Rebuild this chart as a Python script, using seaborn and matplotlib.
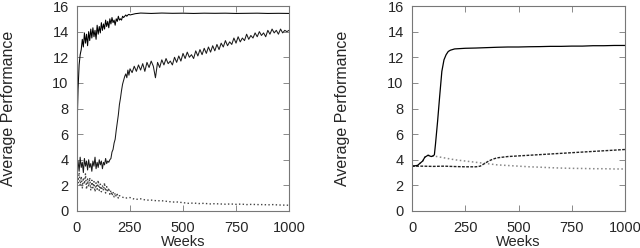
import numpy as np
import pandas as pd
import matplotlib
matplotlib.use("Agg")
import matplotlib.pyplot as plt
import seaborn as sns

# ---- left panel data ----
weeks_top_l = list(range(0, 251, 5)) + [275, 300] + list(range(350, 1001, 50))
perf_top_l = [6.2, 9.5, 11.4, 12.2, 12.6, 13.4, 12.8, 13.9, 13.1, 13.8,
              12.9, 14.0, 13.3, 14.2, 13.5, 14.3, 13.6, 14.1, 13.4, 14.5,
              13.8, 14.4, 13.9, 14.7, 14.1, 14.6, 14.2, 14.9, 14.4, 14.8,
              14.3, 15.0, 14.6, 15.1, 14.7, 14.9, 14.5, 15.0, 14.8, 15.2,
              14.9, 15.0, 14.9, 15.2, 15.1, 15.2, 15.3, 15.2, 15.3, 15.35,
              15.3,
              15.4, 15.45,
              15.42, 15.45, 15.43, 15.44, 15.42, 15.44, 15.43, 15.44, 15.42,
              15.43, 15.44, 15.42, 15.43, 15.42]

weeks_mid_l = list(range(0, 251, 5)) + list(range(260, 1001, 10))
perf_mid_l = [3.3, 3.9, 3.1, 4.2, 3.4, 3.8, 3.0, 4.1, 3.5, 3.9,
              3.2, 4.0, 3.4, 3.7, 3.1, 3.9, 3.5, 4.2, 3.3, 3.8,
              3.4, 4.0, 3.6, 3.9, 3.3, 3.8, 3.6, 4.1, 3.7, 3.9,
              3.8, 4.0, 4.1, 4.6, 4.8, 5.3, 5.6, 6.3, 6.9, 7.5,
              8.3, 8.8, 9.4, 9.9, 10.2, 10.5, 10.7, 10.4, 11.0, 10.6,
              11.1,
              10.8, 11.3, 10.9, 11.4, 11.0, 11.5, 10.9, 11.6, 11.2, 11.7,
              11.3, 10.4, 11.6, 11.2, 11.8, 11.4, 11.9, 11.5, 11.7, 11.4,
              12.0, 11.6, 12.1, 11.7, 12.3, 11.9, 12.4, 12.0, 12.2, 11.9,
              12.5, 12.1, 12.6, 12.2, 12.7, 12.3, 12.8, 12.4, 12.9, 12.5,
              13.0, 12.6, 13.1, 12.8, 13.3, 12.9, 13.2, 13.0, 13.5, 13.1,
              13.6, 13.2, 13.5, 13.3, 13.8, 13.4, 13.7, 13.5, 13.9, 13.6,
              14.0, 13.7, 13.9, 13.6, 14.1, 13.8, 14.2, 13.9, 14.1, 13.8,
              14.2, 13.9, 14.1, 14.0, 14.1]

weeks_low_l = list(range(0, 201, 5)) + list(range(225, 1001, 25))
perf_low_l = [2.8, 2.2, 3.0, 2.0, 2.7, 1.8, 2.6, 2.1, 2.9, 1.7,
              2.5, 1.9, 2.6, 1.6, 2.4, 1.8, 2.3, 1.5, 2.2, 1.7,
              2.4, 1.6, 2.1, 1.5, 2.0, 1.6, 2.2, 1.4, 1.9, 1.5,
              1.8, 1.3, 1.6, 1.2, 1.5, 1.1, 1.4, 1.1, 1.3, 1.0,
              1.2,
              1.0, 1.05, 0.9, 0.95, 0.85, 0.85, 0.8, 0.8, 0.75, 0.7,
              0.7, 0.65, 0.6, 0.62, 0.58, 0.6, 0.55, 0.57, 0.55, 0.53,
              0.55, 0.52, 0.54, 0.5, 0.52, 0.5, 0.5, 0.48, 0.5, 0.47,
              0.46, 0.45]

# ---- right panel data ----
weeks_top_r = [0, 25, 50, 60, 75, 90, 100, 105, 110, 120, 130, 140, 150, 160,
               170, 180, 200] + list(range(250, 1001, 50))
perf_top_r = [3.5, 3.55, 3.9, 4.2, 4.35, 4.25, 4.3, 4.4, 5.2, 7.0, 9.0, 10.9,
              11.8, 12.2, 12.45, 12.55, 12.65,
              12.7, 12.72, 12.75, 12.78, 12.8, 12.8, 12.82, 12.83, 12.85,
              12.85, 12.87, 12.87, 12.9, 12.9, 12.92, 12.92]

weeks_mid_r = [0, 50, 100, 150, 200, 250, 300, 320, 340, 360, 380, 400] + \
    list(range(450, 1001, 50))
perf_mid_r = [3.5, 3.5, 3.48, 3.5, 3.47, 3.45, 3.45, 3.5, 3.7, 3.9, 4.05, 4.15,
              4.25, 4.3, 4.35, 4.4, 4.45, 4.5, 4.55, 4.6, 4.65, 4.7, 4.75, 4.8]

weeks_low_r = [0, 25, 50, 60, 75, 100] + list(range(150, 1001, 50))
perf_low_r = [3.5, 3.55, 3.9, 4.2, 4.35, 4.3,
              4.15, 4.0, 3.9, 3.8, 3.7, 3.6, 3.55, 3.5, 3.45, 3.42, 3.38,
              3.35, 3.33, 3.32, 3.3, 3.3, 3.28, 3.28]

x_ticks = [0, 250, 500, 750, 1000]
y_ticks = list(range(0, 17, 2))

sns.set_style("ticks")
plt.rcParams['font.family'] = ['Liberation Sans', 'DejaVu Sans']


def style_axes(ax):
    ax.set_xlim(0, 1000)
    ax.set_ylim(0, 16)
    ax.set_xticks(x_ticks)
    ax.set_yticks(y_ticks)
    ax.tick_params(direction='in', length=4, width=0.6, color='#777777',
                   top=True, right=True, labelsize=10.5)
    ax.tick_params(axis='y', pad=6)
    ax.tick_params(axis='x', pad=7)
    for s in ax.spines.values():
        s.set_visible(True)
        s.set_color('#777777')
        s.set_linewidth(0.8)
    ax.set_xlabel('Weeks', fontsize=10.5, labelpad=0.5)
    ax.set_ylabel('Average Performance', fontsize=11.5)
    ax.yaxis.set_label_coords(-0.29, 0.5)


fig = plt.figure(figsize=(6.4, 2.48), dpi=100)
ax_l = fig.add_axes([0.1203, 0.1492, 0.3313, 0.8266])
ax_r = fig.add_axes([0.6438, 0.1492, 0.3328, 0.8266])

series_l = [(weeks_low_l, perf_low_l, '#444444', ':', 1.0),
            (weeks_mid_l, perf_mid_l, '#1a1a1a', '-', 0.75),
            (weeks_top_l, perf_top_l, 'black', '-', 0.75)]
for w, p, c, ls, lw in series_l:
    sns.lineplot(x=w, y=p, ax=ax_l, color=c, linestyle=ls, linewidth=lw,
                 estimator=None, legend=False)

series_r = [(weeks_low_r, perf_low_r, '#888888', ':', 1.1),
            (weeks_mid_r, perf_mid_r, '#222222', (0, (2, 1)), 1.0),
            (weeks_top_r, perf_top_r, 'black', '-', 0.9)]
for w, p, c, ls, lw in series_r:
    sns.lineplot(x=w, y=p, ax=ax_r, color=c, linestyle=ls, linewidth=lw,
                 estimator=None, legend=False)

style_axes(ax_l)
style_axes(ax_r)

fig.savefig('out.png', dpi=100)
